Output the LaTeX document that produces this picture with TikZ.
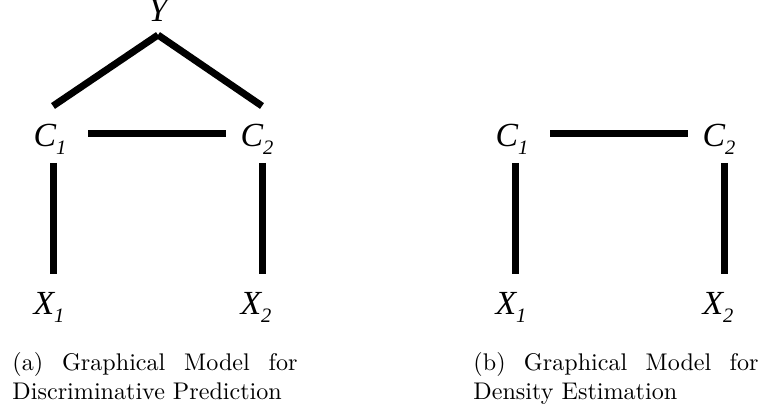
\documentclass[tikz,border=0pt]{standalone}
\usepackage{fontspec}
\newfontfamily\tms{Liberation Serif}
\usetikzlibrary{calc}
\newcommand{\gvar}[2]{{\tms\itshape\fontsize{14}{14}\selectfont #1\raisebox{-3pt}{\fontsize{8.5}{8.5}\selectfont #2}}}
\newcommand{\captfont}{\fontsize{10}{12}\selectfont\tolerance=10000\relax\hyphenpenalty=10000\relax}
\begin{document}
\begin{tikzpicture}[x=0.415pt,y=-0.415pt,
  var/.style={inner sep=0pt, outer sep=0pt, anchor=base},
  edge/.style={line width=2.9pt},
  capt/.style={inner sep=0pt, anchor=north west, text width=118.3pt, align=justify,
    font=\captfont}]
\useasboundingbox (0,0) rectangle (762,408);
% left model
\node[var] (Y)  at (158,22)  {\gvar{Y}{}};
\node[var] (C1) at (50,147)  {\gvar{C}{1}};
\node[var] (C2) at (257,147) {\gvar{C}{2}};
\node[var] (X1) at (49,315)  {\gvar{X}{1}};
\node[var] (X2) at (256,315) {\gvar{X}{2}};
\draw[edge] ($(Y.base)+(0,13)$) -- ($(C1.base)+(3,-41)$);
\draw[edge] ($(Y.base)+(0,13)$) -- ($(C2.base)+(5,-41)$);
\draw[edge] ($(C1.base)+(38,-13)$) -- ($(C2.base)+(-31,-13)$);
\draw[edge] ($(C1.base)+(3.5,16)$) -- ($(X1.base)+(4.5,-41)$);
\draw[edge] ($(C2.base)+(5,16)$) -- ($(X2.base)+(6,-41)$);
\node[capt] (capa) at (12,352) {(a) Graphical Model for Discriminative Prediction};
% right model
\node[var] (D1) at (512,147) {\gvar{C}{1}};
\node[var] (D2) at (719,147) {\gvar{C}{2}};
\node[var] (Z1) at (511,315) {\gvar{X}{1}};
\node[var] (Z2) at (718,315) {\gvar{X}{2}};
\draw[edge] ($(D1.base)+(38,-13)$) -- ($(D2.base)+(-31,-13)$);
\draw[edge] ($(D1.base)+(3.5,16)$) -- ($(Z1.base)+(4.5,-41)$);
\draw[edge] ($(D2.base)+(5,16)$) -- ($(Z2.base)+(6,-41)$);
\node[capt] (capb) at (473,352) {(b) Graphical Model for Density Estimation};
\end{tikzpicture}
\end{document}
